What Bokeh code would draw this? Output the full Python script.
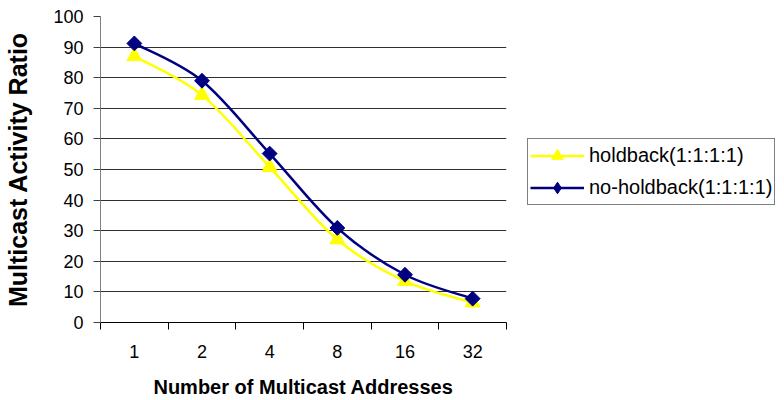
import numpy as np
from bokeh.plotting import figure
from bokeh.models import Range1d, FixedTicker, Legend, LegendItem, ColumnDataSource
from bokeh.embed import file_html
from bokeh.resources import INLINE

# ---- data ----
x_labels = ["1", "2", "4", "8", "16", "32"]
holdback = [87.0, 74.3, 50.8, 27.1, 13.5, 6.5]
no_holdback = [91.2, 79.0, 55.2, 30.9, 15.6, 7.8]
y_ticks = [0, 10, 20, 30, 40, 50, 60, 70, 80, 90, 100]
series_names = ["holdback(1:1:1:1)", "no-holdback(1:1:1:1)"]
x_title = "Number of Multicast Addresses"
y_title = "Multicast Activity Ratio"

FONT = "Liberation Sans"
YELLOW = "#FFFF00"
NAVY = "#000080"

xs = [i + 0.5 for i in range(len(x_labels))]


def smooth_source(x, y):
    """Bezier segments (Excel-like smoothing) with control points from the data."""
    n = len(x)
    d = dict(x0=[], y0=[], x1=[], y1=[], cx0=[], cy0=[], cx1=[], cy1=[])
    for i in range(n - 1):
        ip = max(i - 1, 0)
        inx = min(i + 2, n - 1)
        d["x0"].append(x[i]); d["y0"].append(y[i])
        d["x1"].append(x[i + 1]); d["y1"].append(y[i + 1])
        d["cx0"].append(x[i] + (x[i + 1] - x[ip]) / 6.0)
        d["cy0"].append(y[i] + (y[i + 1] - y[ip]) / 6.0)
        d["cx1"].append(x[i + 1] - (x[inx] - x[i]) / 6.0)
        d["cy1"].append(y[i + 1] - (y[inx] - y[i]) / 6.0)
    return ColumnDataSource(d)


p = figure(frame_width=406, frame_height=306,
           x_range=Range1d(0, len(x_labels)), y_range=Range1d(0, 100),
           output_backend="svg", toolbar_location=None,
           min_border_left=100, min_border_right=278,
           min_border_top=16, min_border_bottom=78,
           background_fill_color="white", border_fill_color="white")
p.outline_line_color = None

# grid
p.xgrid.visible = False
p.ygrid.ticker = FixedTicker(ticks=y_ticks)
p.ygrid.grid_line_color = "#303030"
p.ygrid.grid_line_width = 1

# x axis
xa = p.xaxis[0]
xa.ticker = FixedTicker(ticks=xs, minor_ticks=list(range(len(x_labels) + 1)))
xa.major_label_overrides = {x: l for x, l in zip(xs, x_labels)}
xa.axis_line_color = "black"
xa.major_tick_out = 0
xa.major_tick_in = 0
xa.minor_tick_out = 7
xa.minor_tick_in = 0
xa.minor_tick_line_color = "black"
xa.major_label_standoff = 15
xa.major_label_text_font = FONT
xa.major_label_text_font_size = "18px"
xa.major_label_text_color = "black"
xa.axis_label = x_title
xa.axis_label_text_font = FONT
xa.axis_label_text_font_size = "20px"
xa.axis_label_text_font_style = "bold"
xa.axis_label_text_color = "black"
xa.axis_label_standoff = 15

# y axis
ya = p.yaxis[0]
ya.ticker = FixedTicker(ticks=y_ticks)
ya.axis_line_color = "#808080"
ya.major_tick_out = 7
ya.major_tick_in = 0
ya.major_tick_line_color = "#404040"
ya.minor_tick_line_color = None
ya.major_label_standoff = 10
ya.major_label_text_font = FONT
ya.major_label_text_font_size = "18px"
ya.major_label_text_color = "black"
ya.axis_label = y_title
ya.axis_label_text_font = FONT
ya.axis_label_text_font_size = "25px"
ya.axis_label_text_font_style = "bold"
ya.axis_label_text_color = "black"
ya.axis_label_standoff = 18

# series
src_h = smooth_source(xs, holdback)
src_n = smooth_source(xs, no_holdback)

bh = p.bezier(x0="x0", y0="y0", x1="x1", y1="y1", cx0="cx0", cy0="cy0",
              cx1="cx1", cy1="cy1", source=src_h, line_color=YELLOW, line_width=2.5)
sh = p.scatter(xs, holdback, marker="triangle", size=15,
               fill_color=YELLOW, line_color=YELLOW)
bn = p.bezier(x0="x0", y0="y0", x1="x1", y1="y1", cx0="cx0", cy0="cy0",
              cx1="cx1", cy1="cy1", source=src_n, line_color=NAVY, line_width=2.5)
sn = p.scatter(xs, no_holdback, marker="square", angle=np.pi / 4, size=10.5,
               fill_color=NAVY, line_color=NAVY)
# legend-only glyph (legend markers are drawn unrotated)
sn_leg = p.scatter(xs, no_holdback, marker="diamond", size=14,
                   fill_color=NAVY, line_color=NAVY, visible=False)

legend = Legend(items=[LegendItem(label=series_names[0], renderers=[bh, sh]),
                       LegendItem(label=series_names[1], renderers=[bn, sn_leg])],
                location=(21, 117))
legend.border_line_color = "black"
legend.border_line_width = 1
legend.background_fill_color = "white"
legend.background_fill_alpha = 1
legend.label_text_font = FONT
legend.label_text_font_size = "20px"
legend.label_text_color = "black"
legend.glyph_width = 54
legend.glyph_height = 29
legend.label_height = 29
legend.label_standoff = 5
legend.padding = 2
legend.spacing = 3
legend.margin = 0
p.add_layout(legend, "right")

open("out.html", "w").write(file_html(p, INLINE))
